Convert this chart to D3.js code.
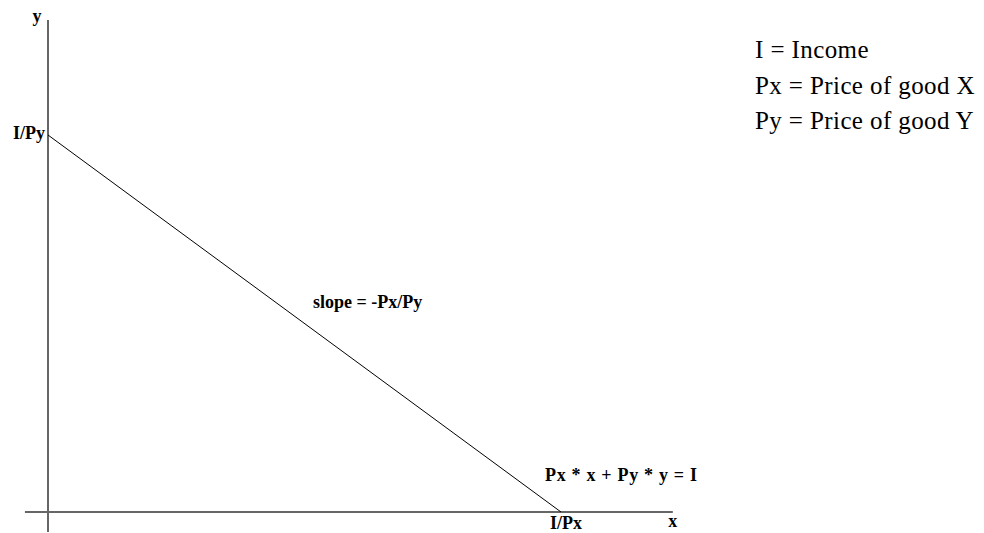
<!DOCTYPE html>
<html>
<head>
<meta charset="utf-8">
<script src="https://cdn.jsdelivr.net/npm/d3@7"></script>
<style>
  html, body { margin: 0; padding: 0; background: #fff; }
  svg { display: block; }
  text { font-family: "Liberation Serif", "Times New Roman", Times, "DejaVu Serif", serif; }
</style>
</head>
<body>
<svg id="chart" width="984" height="533"></svg>
<script>
// budget constraint: Px * x + Py * y = I
const income = 10;
const priceX = 1;
const priceY = 1;
const budgetPoints = [
  { x: 0, y: income / priceY },
  { x: income / priceX, y: 0 },
];
const axisLabels = ['x', 'y'];
const interceptLabels = ['I/Px', 'I/Py'];
const legendLines = ['I = Income', 'Px = Price of good X', 'Py = Price of good Y'];

const svg = d3.select('#chart');
const serif = "'Liberation Serif', 'Times New Roman', Times, serif";

const x = d3.scaleLinear().domain([0, 10]).range([48, 561]);
const y = d3.scaleLinear().domain([0, 10]).range([512, 135]);

// axes span a bit past the origin
const xExtent = [-0.45, 12.18];
const yExtent = [-0.53, 13.05];

svg.append('line')
  .attr('x1', x(xExtent[0])).attr('x2', x(xExtent[1]))
  .attr('y1', y(0)).attr('y2', y(0))
  .attr('stroke', '#666').attr('stroke-width', 2);

svg.append('line')
  .attr('x1', x(0)).attr('x2', x(0))
  .attr('y1', y(yExtent[0])).attr('y2', y(yExtent[1]))
  .attr('stroke', '#666').attr('stroke-width', 2);

svg.append('path')
  .datum(budgetPoints)
  .attr('fill', 'none')
  .attr('stroke', '#000')
  .attr('stroke-width', 1)
  .attr('d', d3.line().x(d => x(d.x)).y(d => y(d.y)));

function label(txt, px, py, anchor) {
  return svg.append('text')
    .text(txt)
    .attr('x', px)
    .attr('y', py)
    .attr('text-anchor', anchor || 'start')
    .attr('font-family', serif)
    .attr('font-weight', 'bold')
    .attr('font-size', '18px')
    .attr('fill', '#000');
}

// axis names
label(axisLabels[0], x(xExtent[1]), y(0) + 15, 'middle');
label(axisLabels[1], x(0) - 11, y(yExtent[1]) + 2, 'middle');

// intercepts
label(interceptLabels[1], x(0) - 3, y(budgetPoints[0].y) + 4, 'end');
label(interceptLabels[0], x(budgetPoints[1].x) + 5, y(0) + 17, 'middle');

// line annotations
label('slope = -Px/Py', 313, 308);
label('Px * x + Py * y = I', 545, 481)
  .attr('textLength', 152)
  .attr('lengthAdjust', 'spacing');

svg.append('g')
  .selectAll('text')
  .data(legendLines)
  .join('text')
  .attr('x', 755)
  .attr('y', (d, i) => 58 + i * 35.5)
  .attr('font-family', serif)
  .attr('font-size', '25px')
  .attr('letter-spacing', '0.4px')
  .attr('fill', '#000')
  .text(d => d);
</script>
</body>
</html>
